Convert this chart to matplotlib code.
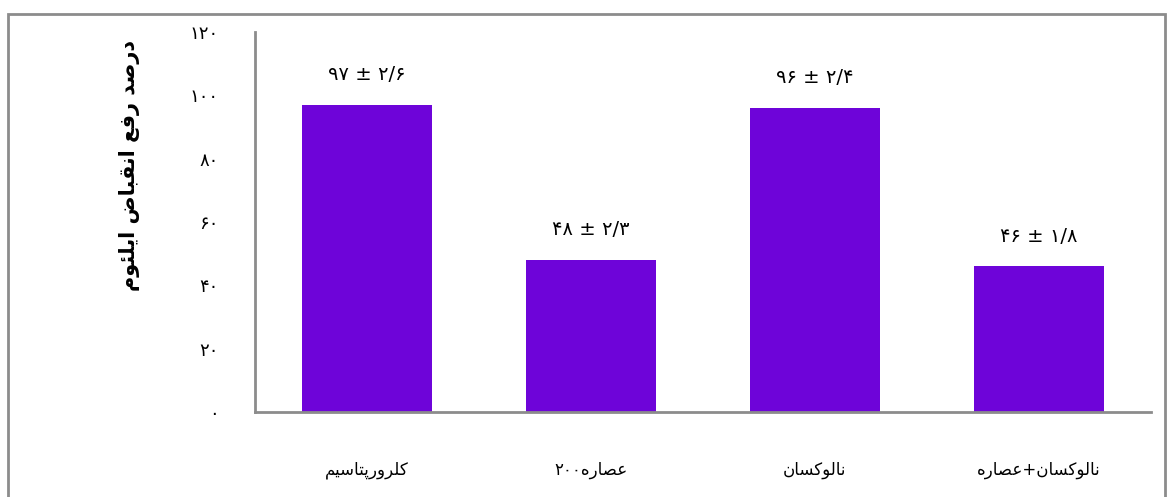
import matplotlib
matplotlib.use("Agg")
import matplotlib.pyplot as plt
from matplotlib.patches import Rectangle

# data
categories = ["کلرورپتاسیم", "عصاره" + "۲۰۰", "نالوکسان", "نالوکسان" + "+" + "عصاره"]
values = [97, 48, 96, 46]
errors = ["۲/۶", "۲/۳", "۲/۴", "۱/۸"]
yticks = [0, 20, 40, 60, 80, 100, 120]
ylabel = "درصد رفع انقباض ایلئوم"

# presentation forms: isolated, final, initial, medial
FORMS = {
    "ا": ("\uFE8D", "\uFE8E", None, None),
    "ب": ("\uFE8F", "\uFE90", "\uFE91", "\uFE92"),
    "پ": ("\uFB56", "\uFB57", "\uFB58", "\uFB59"),
    "ت": ("\uFE95", "\uFE96", "\uFE97", "\uFE98"),
    "د": ("\uFEA9", "\uFEAA", None, None),
    "ر": ("\uFEAD", "\uFEAE", None, None),
    "س": ("\uFEB1", "\uFEB2", "\uFEB3", "\uFEB4"),
    "ص": ("\uFEB9", "\uFEBA", "\uFEBB", "\uFEBC"),
    "ض": ("\uFEBD", "\uFEBE", "\uFEBF", "\uFEC0"),
    "ع": ("\uFEC9", "\uFECA", "\uFECB", "\uFECC"),
    "ف": ("\uFED1", "\uFED2", "\uFED3", "\uFED4"),
    "ق": ("\uFED5", "\uFED6", "\uFED7", "\uFED8"),
    "ک": ("\uFB8E", "\uFB8F", "\uFB90", "\uFB91"),
    "ل": ("\uFEDD", "\uFEDE", "\uFEDF", "\uFEE0"),
    "م": ("\uFEE1", "\uFEE2", "\uFEE3", "\uFEE4"),
    "ن": ("\uFEE5", "\uFEE6", "\uFEE7", "\uFEE8"),
    "ه": ("\uFEE9", "\uFEEA", "\uFEEB", "\uFEEC"),
    "و": ("\uFEED", "\uFEEE", None, None),
    "ی": ("\uFBFC", "\uFBFD", "\uFBFE", "\uFBFF"),
    "ئ": ("\uFE89", "\uFE8A", "\uFE8B", "\uFE8C"),
}


def joins_next(ch):
    return ch in FORMS and FORMS[ch][2] is not None


def shape_word(word):
    # contextual forms, then reverse for left-to-right drawing
    out = []
    for i, ch in enumerate(word):
        if ch not in FORMS:
            out.append(ch)
            continue
        prev = word[i - 1] if i > 0 else ""
        nxt = word[i + 1] if i + 1 < len(word) else ""
        left = joins_next(prev)
        right = nxt in FORMS and joins_next(ch)
        iso, fin, ini, med = FORMS[ch]
        if left and right:
            out.append(med)
        elif left:
            out.append(fin)
        elif right:
            out.append(ini)
        else:
            out.append(iso)
    return "".join(reversed(out))


def rtl(text):
    # split into runs: arabic runs get shaped, others stay as they are,
    # and the run order is flipped for a right-to-left line
    runs = []
    cur = ""
    cur_type = None
    for ch in text:
        t = "a" if ch in FORMS or ch == " " else "o"
        if t != cur_type and cur:
            runs.append((cur_type, cur))
            cur = ""
        cur += ch
        cur_type = t
    if cur:
        runs.append((cur_type, cur))
    pieces = [shape_word(s) if t == "a" else s for t, s in runs]
    return "".join(reversed(pieces))


def fa_num(n):
    return "".join("۰۱۲۳۴۵۶۷۸۹"[int(d)] for d in str(n))


plt.rcParams["font.family"] = ["DejaVu Sans"]

fig = plt.figure(figsize=(11.73, 4.97), dpi=100)
fig.patches.append(Rectangle((8 / 1173, -0.05), 1157 / 1173, 1 - 14 / 497 + 0.05,
                             transform=fig.transFigure, fill=False,
                             edgecolor="#8c8c8c", linewidth=2))

ax = fig.add_axes([255 / 1173, 1 - 412 / 497, 896 / 1173, 380 / 497])
x = list(range(len(categories)))
bars = ax.bar(x, values, width=0.576, color="#6E04D9")

for xi, v, e in zip(x, values, errors):
    ax.annotate(fa_num(v) + " ± " + e, (xi, v), xytext=(0, 15),
                textcoords="offset points", ha="center", va="bottom", fontsize=14)

ax.set_xlim(-0.5, 3.5)
ax.set_ylim(0, 120)
ax.set_yticks(yticks)
ax.set_yticklabels([fa_num(t) for t in yticks], fontsize=13)
ax.set_xticks(x)
ax.set_xticklabels([rtl(c) for c in categories], fontsize=12)
ax.tick_params(axis="y", length=0, pad=26)
ax.tick_params(axis="x", length=0, pad=35)

for s in ["top", "right"]:
    ax.spines[s].set_visible(False)
for s in ["left", "bottom"]:
    ax.spines[s].set_color("#8c8c8c")
    ax.spines[s].set_linewidth(2)

fig.text(130 / 1173, 1 - 165 / 497, rtl(ylabel), rotation=90, ha="center",
         va="center", fontsize=15, fontweight="bold")

fig.savefig("out.png", dpi=100)
